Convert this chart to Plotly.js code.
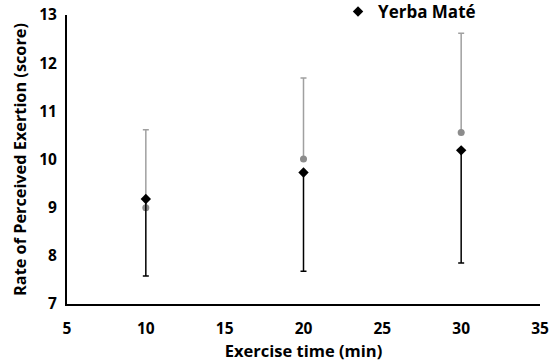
<!DOCTYPE html>
<html>
<head>
<meta charset="utf-8">
<script src="https://cdn.plot.ly/plotly-3.0.1.min.js"></script>
<style>html,body{margin:0;padding:0;background:#fff;}#chart{width:550px;height:364px;}</style>
</head>
<body>
<div id="chart"></div>
<script>
var exerciseTime = [10, 20, 30];
var yerbaMate = [9.18, 9.73, 10.19];
var yerbaMateErrMinus = [1.60, 2.05, 2.34];
var placebo = [9.0, 10.01, 10.56];
var placeboErrPlus = [1.62, 1.68, 2.06];
var xTicks = [5, 10, 15, 20, 25, 30, 35];
var yTicks = [7, 8, 9, 10, 11, 12, 13];

var font = "'Open Sans', 'DejaVu Sans', sans-serif";

var traces = [
  {
    x: exerciseTime, y: placebo, type: 'scatter', mode: 'markers',
    name: 'Placebo', showlegend: false,
    marker: {symbol: 'circle', size: 7, color: '#8c8c8c'},
    error_y: {type: 'data', symmetric: false, array: placeboErrPlus, arrayminus: [0,0,0], color: '#a0a0a0', thickness: 1.5, width: 3}
  },
  {
    x: exerciseTime, y: yerbaMate, type: 'scatter', mode: 'markers',
    name: 'Yerba Maté',
    marker: {symbol: 'diamond', size: 8, color: '#000000'},
    error_y: {type: 'data', symmetric: false, array: [0,0,0], arrayminus: yerbaMateErrMinus, color: '#000000', thickness: 1.5, width: 3}
  }
];

var layout = {
  width: 550, height: 364,
  margin: {l: 67, r: 10, t: 15, b: 60, autoexpand: false},
  paper_bgcolor: '#ffffff', plot_bgcolor: '#ffffff',
  font: {family: font, color: '#000', size: 13},
  showlegend: true,
  legend: {x: 0.573, y: 1.0104, xanchor: 'left', yanchor: 'middle',
    bgcolor: 'rgba(255,255,255,0)',
    font: {family: font, size: 17, color: '#000', weight: 'bold'}, itemwidth: 30},
  xaxis: {
    range: [5, 35], tickvals: xTicks, ticktext: xTicks.map(String),
    showgrid: false, zeroline: false, showline: true, linecolor: '#000', linewidth: 2,
    ticks: 'outside', ticklen: 9, tickcolor: 'rgba(0,0,0,0)',
    tickfont: {family: font, size: 15.5, color: '#000', weight: 'bold'},
    title: {text: 'Exercise time (min)', font: {family: font, size: 16.5, color: '#000', weight: 'bold'}, standoff: 8}
  },
  yaxis: {
    range: [7, 13], tickvals: yTicks, ticktext: yTicks.map(String),
    showgrid: false, zeroline: false, showline: true, linecolor: '#000', linewidth: 2,
    ticks: 'outside', ticklen: 5, tickcolor: 'rgba(0,0,0,0)',
    tickfont: {family: font, size: 15.5, color: '#000', weight: 'bold'},
    title: {text: 'Rate of Perceived Exertion (score)', font: {family: font, size: 16.3, color: '#000', weight: 'bold'}, standoff: 8}
  }
};

Plotly.newPlot('chart', traces, layout, {displayModeBar: false, staticPlot: true});
</script>
</body>
</html>
